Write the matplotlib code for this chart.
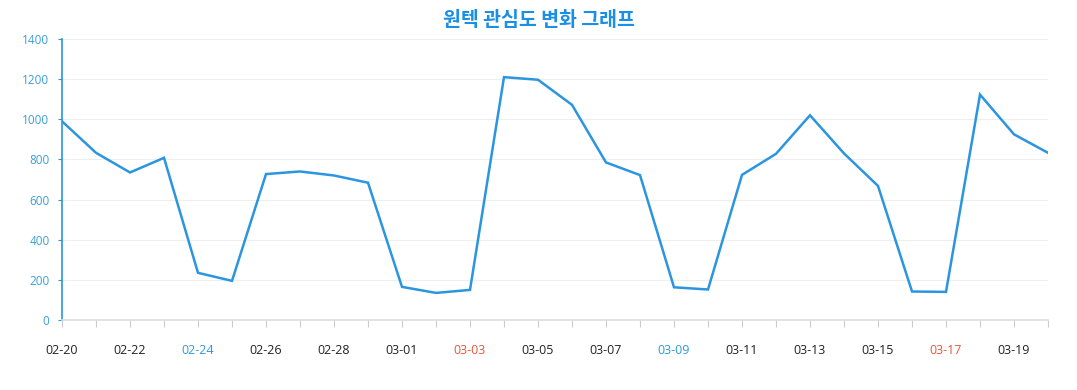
import matplotlib
matplotlib.use("Agg")
import matplotlib.pyplot as plt

plt.rcParams['font.family'] = ['Open Sans', 'Noto Sans CJK KR', 'DejaVu Sans']

# data
dates = ['02-20', '02-21', '02-22', '02-23', '02-24', '02-25', '02-26', '02-27', '02-28', '02-29',
         '03-01', '03-02', '03-03', '03-04', '03-05', '03-06', '03-07', '03-08', '03-09', '03-10',
         '03-11', '03-12', '03-13', '03-14', '03-15', '03-16', '03-17', '03-18', '03-19', '03-20']
interest = [990, 833, 735, 808, 235, 195, 727, 740, 720, 684,
            165, 135, 150, 1210, 1197, 1072, 785, 722, 163, 152,
            723, 828, 1020, 830, 668, 142, 140, 1123, 925, 833]
blue_labels = ['02-24', '03-09']
red_labels = ['03-03', '03-17']

fig = plt.figure(figsize=(10.77, 3.9), dpi=100)
ax = fig.add_axes([62/1077, 70/390, (1048-62)/1077, (320-39)/390])

x = list(range(len(dates)))
ax.plot(x, interest, color='#2b95e0', lw=1.8, solid_joinstyle='miter')

ax.set_xlim(0, len(dates) - 1)
ax.set_ylim(0, 1400)
ax.set_yticks(range(0, 1401, 200))
ax.grid(axis='y', color='#eeeeee', lw=0.8)
ax.set_axisbelow(True)

ax.set_xticks(x)
ax.set_xticklabels([d if i % 2 == 0 else '' for i, d in enumerate(dates)])
for lab, d in zip(ax.get_xticklabels(), dates):
    if d in blue_labels:
        lab.set_color('#2c9ad6')
    elif d in red_labels:
        lab.set_color('#e0583a')
    else:
        lab.set_color('#222222')

ax.tick_params(axis='x', length=5, width=0.8, color='#cccccc', pad=12, labelsize=9)
ax.tick_params(axis='y', length=3, width=0.8, color='#2b95e0', labelcolor='#3a9fd8',
               pad=6, labelsize=8.5)

for s in ['top', 'right']:
    ax.spines[s].set_visible(False)
ax.spines['left'].set_color('#2b95e0')
ax.spines['left'].set_linewidth(1.2)
ax.spines['bottom'].set_color('#dddddd')
ax.spines['bottom'].set_linewidth(1.2)

fig.text(0.5, 1 - 20/390, '원텍 관심도 변화 그래프', ha='center', va='center',
         fontsize=14, fontweight='bold', color='#1a8fe3',
         family=['Noto Sans CJK KR', 'DejaVu Sans'])

fig.savefig('out.png', dpi=100)
